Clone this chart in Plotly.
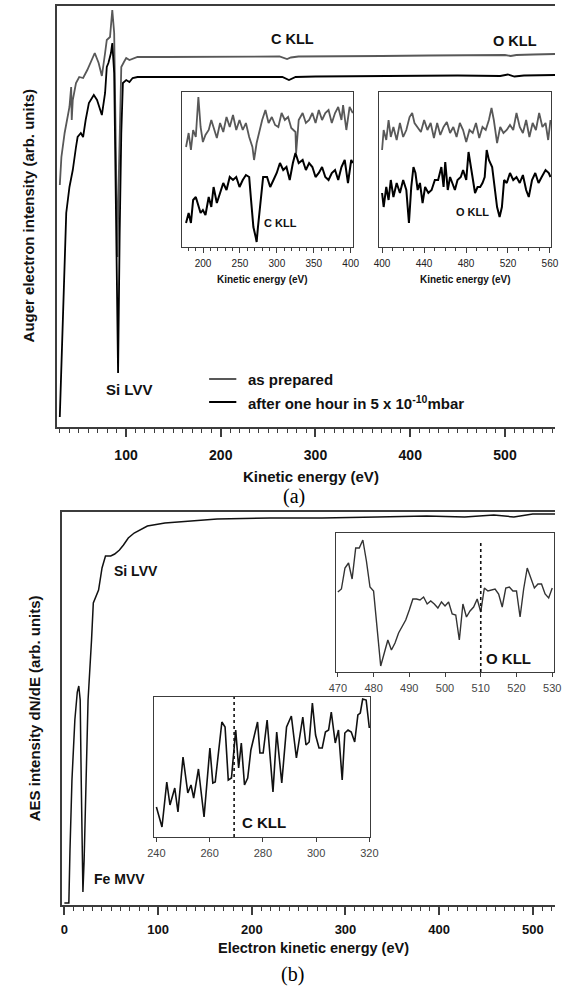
import plotly.graph_objects as go

# ---------------- DATA ----------------
# Panel (a) main spectra (kinetic energy eV, intensity arb.)
GRAY_A_EV = [30.1, 31.8, 35.2, 38.6, 40.3, 42.1, 42.7, 43.8, 47.2, 50.6, 54.7, 59.1, 62.6, 67.0, 71.1, 74.5,
             77.9, 79.7, 83.1, 85.5, 87.5, 89.2, 90.9, 92.6, 95.0, 97.8, 100.2, 103.6, 112.1, 140, 180.5, 230,
             262, 270, 274, 282, 320, 370, 420, 470, 500, 506, 512, 530, 553]
GRAY_A_H = [242, 270, 294, 314, 320, 340, 307, 327, 344, 350, 349, 357, 365, 374, 364, 351,
            374, 387, 390, 417, 394, 294, 170, 260, 360, 365, 369, 367, 370, 370, 370, 370.5,
            370.5, 368, 369.5, 370.5, 371, 371, 371.5, 372, 372, 371, 372, 372.5, 373]
BLACK_A_EV = [30.1, 31.8, 33.5, 36.9, 40.3, 43.8, 47.2, 48.9, 52.3, 54.7, 57.4, 60.8, 66.0, 69.4, 74.5, 77.9,
              79.7, 81.4, 84.1, 85.5, 87.5, 89.9, 91.6, 93.3, 95.0, 96.7, 100.2, 103.6, 107.0, 112.1, 180.5,
              240, 265, 272, 279, 300, 350, 400, 450, 495, 503, 510, 520, 553]
BLACK_A_H = [10, 60, 127, 214, 240, 257, 280, 290, 294, 290, 307, 324, 332, 327, 312, 334,
             360, 364, 374, 384, 354, 194, 54, 194, 294, 344, 347, 345, 349, 350, 350,
             350.5, 350, 347, 350, 350.5, 351, 351, 351.5, 351, 352.5, 350.5, 351.5, 352]

# Panel (a) inset 1 (C KLL region)
IN1_GRAY_EV = [177.0, 180.5, 183.6, 186.6, 190.2, 193.7, 196.7, 199.8, 203.3, 207.7, 211.2, 214.3, 218.7, 223.1,
               227.4, 231.8, 236.2, 240.6, 245.0, 249.4, 253.8, 258.1, 262.5, 266.9, 269.1, 272.6, 275.7, 280.1,
               284.5, 288.8, 293.2, 297.6, 302.0, 306.4, 310.8, 315.2, 319.5, 325.2, 326.1, 329.6, 334.9, 339.3,
               343.7, 348.1, 352.4, 356.8, 361.2, 365.6, 370.0, 374.4, 378.8, 383.1, 387.5, 389.7, 394.1, 398.5, 402.9]
IN1_GRAY_H = [100, 114, 97, 117, 110, 150, 120, 105, 112, 117, 127, 120, 109, 124,
              115, 130, 120, 132, 117, 127, 117, 124, 110, 100, 87, 104, 114, 127,
              137, 124, 130, 122, 120, 134, 127, 130, 119, 115, 94, 127, 134, 124,
              127, 134, 124, 137, 127, 134, 137, 124, 134, 140, 127, 142, 117, 140, 134]
IN1_BLACK_EV = [177.0, 180.5, 183.6, 186.6, 190.2, 193.7, 196.7, 199.8, 203.3, 207.7, 211.2, 214.3, 218.7, 223.1,
                227.4, 231.8, 236.2, 240.6, 245.0, 249.4, 253.8, 258.1, 262.5, 264.7, 268.2, 271.3, 272.6, 274.4,
                277.0, 281.4, 286.7, 291.0, 295.4, 299.8, 304.2, 308.6, 313.0, 317.4, 321.7, 325.2, 329.6, 334.9,
                339.3, 343.7, 348.1, 352.4, 356.8, 361.2, 365.6, 370.0, 374.4, 378.8, 383.1, 387.5, 391.9, 396.3,
                400.7, 402.9]
IN1_BLACK_H = [24, 34, 24, 47, 50, 40, 34, 37, 32, 50, 40, 60, 44, 54,
               64, 57, 70, 67, 70, 60, 67, 72, 70, 50, 20, 10, 5, 20,
               40, 70, 70, 60, 67, 74, 84, 77, 80, 67, 84, 94, 84, 87,
               77, 84, 80, 70, 74, 80, 70, 67, 74, 77, 67, 80, 87, 64,
               87, 84]

# Panel (a) inset 2 (O KLL region)
IN2_GRAY_EV = [400.0, 401.5, 404.0, 406.2, 408.3, 410.8, 413.9, 417.0, 420.1, 423.1, 426.2, 428.7, 430.9, 433.9,
               437.0, 440.1, 443.2, 446.3, 449.4, 452.5, 455.5, 458.6, 461.7, 464.8, 467.9, 471.0, 474.1, 477.2,
               480.2, 483.3, 486.4, 489.5, 492.6, 495.7, 498.8, 501.8, 504.3, 506.5, 509.6, 512.6, 515.7, 518.8,
               521.9, 525.0, 528.1, 531.2, 534.2, 537.3, 540.4, 543.5, 546.6, 549.7, 552.8, 555.8, 558.3, 560.5]
IN2_GRAY_H = [97, 117, 107, 127, 110, 120, 107, 124, 110, 117, 130, 134, 124, 120,
              115, 127, 117, 124, 109, 124, 112, 120, 125, 114, 120, 110, 124, 117,
              105, 117, 114, 124, 109, 120, 117, 127, 139, 127, 104, 120, 114, 117,
              122, 117, 134, 120, 114, 127, 110, 124, 117, 134, 120, 124, 107, 127]
IN2_BLACK_EV = [400.0, 401.5, 404.0, 406.2, 408.3, 410.8, 413.9, 417.0, 420.1, 423.1, 425.6, 427.8, 429.9, 431.8,
                433.9, 436.1, 438.6, 441.0, 444.1, 447.2, 450.3, 453.4, 456.5, 458.6, 460.2, 462.6, 464.8, 467.0,
                469.4, 471.9, 475.0, 477.2, 480.2, 482.4, 484.2, 486.4, 488.6, 491.0, 493.5, 495.7, 497.8, 499.7,
                501.8, 504.9, 507.1, 509.6, 512.0, 514.2, 516.3, 518.8, 521.9, 525.0, 528.1, 531.2, 534.2, 537.3,
                539.8, 542.9, 546.0, 549.1, 552.1, 555.8, 558.9, 560.5]
IN2_BLACK_H = [54, 40, 60, 47, 67, 50, 64, 54, 67, 57, 24, 60, 80, 74,
               57, 64, 44, 60, 54, 57, 67, 67, 80, 60, 85, 57, 70, 64,
               57, 67, 70, 77, 67, 95, 84, 67, 54, 60, 60, 64, 70, 97,
               87, 80, 60, 40, 30, 40, 67, 64, 74, 67, 70, 64, 72, 57,
               50, 67, 74, 64, 70, 77, 74, 70]

# Panel (b) main spectrum
B_EV = [0, 4.8, 6.0, 8.1, 11.2, 13.8, 15.4, 16.9, 18.0, 19.0, 19.8, 21.1, 22.6, 25.3, 29.0, 30.9, 36.5,
        40.2, 43.9, 49.5, 53.7, 58.8, 63.1, 68.2, 74.5, 81.1, 88.6, 107.3, 163.1, 219.7, 274.9, 333.8,
        386.6, 427.2, 458.3, 479.7, 499.8, 523.6]
B_H = [2, 2, 55, 125, 185, 213, 219, 205, 125, 25, 13, 45, 115, 205, 265, 302, 315,
       337, 349, 349, 351, 355, 360, 367, 372, 375, 379, 382, 386, 387, 387, 388,
       389, 388, 390, 388, 391, 391]

# Panel (b) inset: O KLL
O_EV = list(range(470, 531))
O_H = [80, 83, 104, 109, 93, 124, 124, 132, 111, 85, 81, 45, 6, 19, 32, 22, 29, 39, 45, 52,
       62, 73, 73, 72, 75, 68, 71, 68, 64, 70, 66, 70, 58, 57, 32, 68, 55, 61, 65, 73,
       60, 84, 81, 82, 83, 78, 65, 84, 85, 81, 81, 55, 83, 104, 93, 84, 88, 88, 78, 74, 84]
O_LINE_EV = 510

# Panel (b) inset: C KLL
C_EV = [240.0, 242.1, 243.9, 245.1, 246.9, 248.1, 250.0, 251.8, 253.0, 254.0, 255.8, 257.9, 260.1, 261.2,
        262.1, 264.6, 265.8, 267.0, 268.2, 269.8, 270.9, 271.9, 273.1, 274.3, 275.5, 278.0, 278.9, 280.1,
        281.6, 283.8, 285.2, 287.1, 288.9, 290.7, 292.6, 295.0, 296.2, 297.4, 298.6, 299.8, 301.1, 302.3,
        303.5, 304.7, 305.7, 307.2, 308.4, 309.8, 310.8, 312.0, 313.2, 314.5, 315.7, 316.6, 317.5, 318.8, 320.0]
C_H = [30, 10, 55, 32, 49, 25, 80, 44, 52, 39, 68, 20, 89, 54,
       55, 115, 110, 57, 59, 107, 69, 94, 52, 59, 87, 115, 84, 84,
       117, 45, 105, 54, 110, 121, 79, 120, 92, 95, 134, 102, 89, 89,
       105, 107, 125, 94, 107, 57, 104, 107, 105, 95, 122, 124, 138, 137, 109]
C_LINE_EV = 269.2

LEGEND_LABELS = ["as prepared", "after one hour in 5 x 10<sup>-10</sup>mbar"]

# ---------------- STYLE / LAYOUT ----------------
W, H = 563, 987
FONT = "Liberation Sans, Arial, sans-serif"
FRAME = "#3c3c3c"
GRAY = "#585858"
BLACK = "#000000"


def dx(a, b):
    return [a / W, b / W]


def dy(top, bottom):
    return [1 - bottom / H, 1 - top / H]


fig = go.Figure()


def line_trace(x, y, ax, color, width):
    fig.add_trace(go.Scatter(x=x, y=y, xaxis="x" + ax, yaxis="y" + ax, mode="lines",
                             line=dict(color=color, width=width), showlegend=False,
                             hoverinfo="skip"))


line_trace(GRAY_A_EV, GRAY_A_H, "", GRAY, 1.8)
line_trace(BLACK_A_EV, BLACK_A_H, "", BLACK, 1.8)
line_trace(IN1_GRAY_EV, IN1_GRAY_H, "2", GRAY, 1.8)
line_trace(IN1_BLACK_EV, IN1_BLACK_H, "2", BLACK, 2.0)
line_trace(IN2_GRAY_EV, IN2_GRAY_H, "3", GRAY, 1.8)
line_trace(IN2_BLACK_EV, IN2_BLACK_H, "3", BLACK, 2.0)
line_trace(B_EV, B_H, "4", "#111111", 1.5)
line_trace(O_EV, O_H, "5", "#333333", 1.4)
line_trace(C_EV, C_H, "6", "#111111", 1.6)


def main_x(domain, rng, fsize, standoff):
    return dict(domain=domain, range=rng, showline=True, linecolor=FRAME, linewidth=1.5, mirror=True,
                ticks="outside", ticklen=8, tickwidth=1.5, tickcolor=FRAME, dtick=100, tick0=0,
                minor=dict(dtick=10, tick0=0, ticklen=4, ticks="outside", tickcolor=FRAME, tickwidth=1),
                tickfont=dict(family=FONT, size=fsize, color="#111", weight="bold"),
                showgrid=False, zeroline=False, ticklabelstandoff=standoff)


def main_y(domain, rng, anchor):
    return dict(domain=domain, range=rng, showline=True, linecolor=FRAME, linewidth=1.5, mirror=False,
                showticklabels=False, ticks="", showgrid=False, zeroline=False, anchor=anchor)


def inset_x(domain, rng, dtick, minor, fsize, color, ticklen, anchor):
    d = dict(domain=domain, range=rng, showline=True, linecolor=FRAME, linewidth=1.3, mirror=True,
             ticks="outside", ticklen=ticklen, tickwidth=1.2, tickcolor=FRAME, dtick=dtick, tick0=0,
             tickfont=dict(family=FONT, size=fsize, color=color),
             showgrid=False, zeroline=False, anchor=anchor, ticklabelstandoff=2)
    if minor:
        d["minor"] = dict(dtick=minor, tick0=0, ticklen=3, ticks="outside", tickcolor=FRAME, tickwidth=1)
    return d


def inset_y(domain, rng, anchor):
    return dict(domain=domain, range=rng, showline=True, linecolor=FRAME, linewidth=1.3, mirror=True,
                showticklabels=False, ticks="", showgrid=False, zeroline=False, anchor=anchor)


fig.update_layout(
    width=W, height=H, autosize=False,
    margin=dict(l=0, r=0, t=0, b=0),
    paper_bgcolor="white", plot_bgcolor="rgba(0,0,0,0)",
    showlegend=False,
    xaxis=dict(main_x(dx(50, W), [26.7, 552.8], 14, 6), anchor="y"),
    yaxis=main_y(dy(6, 427), [0, 421], "x"),
    xaxis2=inset_x(dx(179, 355), [171.4, 403], 50, 10, 10, "#222", 5, "y2"),
    yaxis2=inset_y(dy(92, 247), [0, 155], "x2"),
    xaxis3=inset_x(dx(382, 559), [397.2, 561.1], 40, 10, 10, "#222", 5, "y3"),
    yaxis3=inset_y(dy(92, 247), [0, 155], "x3"),
    xaxis4=dict(main_x(dx(55.5, W), [-2.6, 523.6], 13, 4), anchor="y4"),
    yaxis4=main_y(dy(512, 905), [0, 393], "x4"),
    xaxis5=inset_x(dx(338, 562), [469.6, 530.5], 10, None, 11, "#444", 4, "y5"),
    yaxis5=inset_y(dy(533, 672), [0, 139], "x5"),
    xaxis6=inset_x(dx(150, 373), [239.0, 320.4], 20, None, 11, "#444", 4, "y6"),
    yaxis6=inset_y(dy(697, 837), [0, 140], "x6"),
)

# reference dotted lines in (b) insets
fig.add_shape(type="line", xref="x5", yref="y5 domain", x0=O_LINE_EV, x1=O_LINE_EV, y0=0, y1=0.94,
              line=dict(color="#111", width=1.6, dash="dot"))
fig.add_shape(type="line", xref="x6", yref="y6 domain", x0=C_LINE_EV, x1=C_LINE_EV, y0=0, y1=1,
              line=dict(color="#111", width=1.6, dash="dot"))


def text(x, y, s, size, bold=True, color="#111", family=FONT, xanchor="center", angle=0):
    fig.add_annotation(x=x / W, y=1 - y / H, xref="paper", yref="paper", text=s, showarrow=False,
                       xanchor=xanchor, yanchor="middle", textangle=angle,
                       font=dict(family=family, size=size, color=color, weight="bold" if bold else "normal"))


# panel (a) texts
text(312, 476, "Kinetic energy (eV)", 15)
text(21, 216, "Auger electron intensity (arb. units)", 15, angle=-90)
text(294, 497, "(a)", 20, bold=False, color="#000", family="Liberation Serif, Times New Roman, serif")
text(125, 389, "Si LVV", 15)
text(293, 39, "C KLL", 14.5)
text(522, 41, "O KLL", 14.5)
text(280, 223, "C KLL", 11)
text(478, 212, "O KLL", 11)
text(262, 280, "Kinetic energy (eV)", 10)
text(471, 280, "Kinetic energy (eV)", 10)

# legend of panel (a)
leg_y = [379, 402]
leg_col = [GRAY, BLACK]
for yy, col, lab in zip(leg_y, leg_col, LEGEND_LABELS):
    fig.add_shape(type="line", xref="paper", yref="paper", x0=207 / W, x1=235 / W,
                  y0=1 - yy / H, y1=1 - yy / H, line=dict(color=col, width=2))
    text(245, yy, lab, 15, xanchor="left")

# panel (b) texts
text(314, 948, "Electron kinetic energy (eV)", 14.5)
text(27, 708, "AES intensity dN/dE (arb. units)", 15, angle=-90)
text(293, 974, "(b)", 20, bold=False, color="#000", family="Liberation Serif, Times New Roman, serif")
text(132, 571, "Si LVV", 14)
text(115, 879, "Fe MVV", 14)
text(515, 658, "O KLL", 15)
text(263, 822, "C KLL", 15)

fig.write_html("out.html")
